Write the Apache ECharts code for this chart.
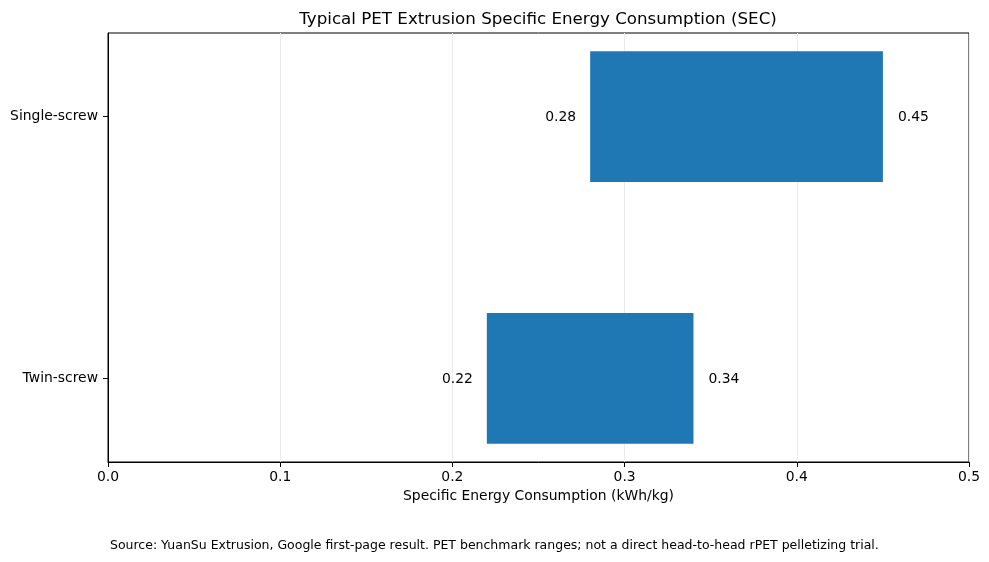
<!DOCTYPE html>
<html>
<head>
<meta charset="utf-8">
<script src="https://cdn.jsdelivr.net/npm/echarts@6/dist/echarts.min.js"></script>
<style>
  html, body { margin: 0; padding: 0; background: #fff; }
  #main { width: 989px; height: 562px; }
</style>
</head>
<body>
<div id="main"></div>
<script>
var categories = ["Twin-screw", "Single-screw"];
var lowValues = [0.22, 0.28];
var highValues = [0.34, 0.45];
var sourceNote = "Source: YuanSu Extrusion, Google first-page result. PET benchmark ranges; not a direct head-to-head rPET pelletizing trial.";

(function () {
  var chart = echarts.init(document.getElementById("main"));
  var font = "DejaVu Sans";
  var barData = categories.map(function (c, i) {
    return [i, lowValues[i], highValues[i]];
  });

  function renderRange(params, api) {
    var y = api.value(0);
    var lo = api.value(1);
    var hi = api.value(2);
    var p0 = api.coord([lo, y + 0.25]);
    var p1 = api.coord([hi, y - 0.25]);
    var mid = (p0[1] + p1[1]) / 2 + 1;
    var txt = { fontFamily: font, fontSize: 13.9, fill: "#000", verticalAlign: "middle" };
    return {
      type: "group",
      children: [
        {
          type: "rect",
          shape: { x: p0[0], y: p0[1], width: p1[0] - p0[0], height: p1[1] - p0[1] },
          style: { fill: "#1f77b4" }
        },
        {
          type: "text",
          x: p0[0] - 14, y: mid,
          style: Object.assign({ text: lo.toFixed(2), align: "right" }, txt)
        },
        {
          type: "text",
          x: p1[0] + 15, y: mid,
          style: Object.assign({ text: hi.toFixed(2), align: "left" }, txt)
        }
      ]
    };
  }

  var option = {
    animation: false,
    backgroundColor: "#fff",
    title: {
      text: "Typical PET Extrusion Specific Energy Consumption (SEC)",
      left: 533,
      textAlign: "center",
      top: 6,
      textStyle: { fontFamily: font, fontSize: 16.7, fontWeight: "normal", color: "#000" }
    },
    grid: {
      left: 108, right: 20, top: 33, bottom: 100,
      show: true, borderColor: "#000", borderWidth: 1, backgroundColor: "transparent"
    },
    xAxis: {
      type: "value",
      min: 0, max: 0.5, interval: 0.1,
      name: "Specific Energy Consumption (kWh/kg)",
      nameLocation: "middle",
      nameGap: 27,
      nameTextStyle: { fontFamily: font, fontSize: 13.9, color: "#000" },
      axisLine: { show: true, onZero: false, lineStyle: { color: "#000", width: 1 } },
      axisTick: { show: true, inside: false, length: 5, lineStyle: { color: "#000" } },
      axisLabel: {
        fontFamily: font, fontSize: 13.9, color: "#000", margin: 8,
        formatter: function (v) { return v.toFixed(1); }
      },
      splitLine: { show: true, lineStyle: { color: "#ebebeb", width: 1 } }
    },
    yAxis: {
      type: "value",
      min: -0.32, max: 1.32,
      axisLine: { show: true, onZero: false, lineStyle: { color: "#000", width: 1 } },
      axisTick: { show: true, length: 5, customValues: [0, 1], lineStyle: { color: "#000" } },
      axisLabel: {
        fontFamily: font, fontSize: 13.9, color: "#000", margin: 10,
        customValues: [0, 1],
        formatter: function (v) { return categories[Math.round(v)] || ""; }
      },
      splitLine: { show: false }
    },
    series: [{
      type: "custom",
      renderItem: renderRange,
      encode: { x: [1, 2], y: 0 },
      data: barData
    }],
    graphic: [{
      type: "text",
      left: 110,
      top: 539,
      style: { text: sourceNote, fontFamily: font, fontSize: 12.5, fill: "#000" }
    }]
  };

  chart.setOption(option);
})();
</script>
</body>
</html>
